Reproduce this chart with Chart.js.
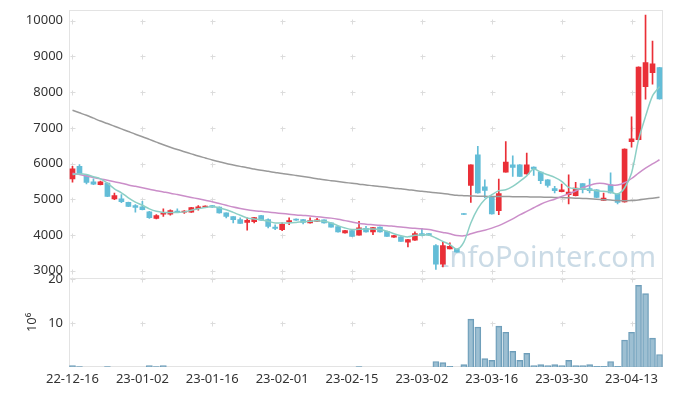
<!DOCTYPE html>
<html>
<head>
<meta charset="utf-8">
<script src="https://cdn.jsdelivr.net/npm/chart.js@4/dist/chart.umd.min.js"></script>
<style>
  body { margin: 0; background: #fff; }
  #wrap { width: 673px; height: 396px; }
</style>
</head>
<body>
<div id="wrap"><canvas id="stock-chart" width="673" height="396"></canvas></div>
<script>
// --- DATA (trading days, prices, volume in 10^6 shares) ---
const dates = [
  '22-12-16','22-12-19','22-12-20','22-12-21','22-12-22','22-12-23','22-12-26','22-12-27','22-12-28','22-12-29',
  '23-01-02','23-01-03','23-01-04','23-01-05','23-01-06','23-01-09','23-01-10','23-01-11','23-01-12','23-01-13',
  '23-01-16','23-01-17','23-01-18','23-01-19','23-01-20','23-01-25','23-01-26','23-01-27','23-01-30','23-01-31',
  '23-02-01','23-02-02','23-02-03','23-02-06','23-02-07','23-02-08','23-02-09','23-02-10','23-02-13','23-02-14',
  '23-02-15','23-02-16','23-02-17','23-02-20','23-02-21','23-02-22','23-02-23','23-02-24','23-02-27','23-02-28',
  '23-03-02','23-03-03','23-03-06','23-03-07','23-03-08','23-03-09','23-03-10','23-03-13','23-03-14','23-03-15',
  '23-03-16','23-03-17','23-03-20','23-03-21','23-03-22','23-03-23','23-03-24','23-03-27','23-03-28','23-03-29',
  '23-03-30','23-03-31','23-04-03','23-04-04','23-04-05','23-04-06','23-04-07','23-04-10','23-04-11','23-04-12',
  '23-04-13','23-04-14','23-04-17','23-04-18','23-04-19'
];

const openPrices = [
  5570,5920,5670,5490,5410,5450,5010,5010,4910,4820,
  4790,4650,4460,4580,4580,4670,4635,4635,4735,4780,
  4820,4780,4615,4510,4430,4350,4370,4540,4430,4220,
  4150,4365,4445,4430,4335,4380,4420,4335,4230,4055,
  4120,3995,4185,4085,4220,4100,3935,3945,3795,3850,
  4035,4035,3700,3180,3610,3600,4600,5385,6245,5350,
  5060,4680,5760,5965,5965,5705,5900,5760,5545,5295,
  5210,5125,5100,5435,5295,5265,4965,5405,5145,4925,
  6610,6665,8155,8545,8690
];
const closePrices = [
  5850,5710,5470,5420,5490,5080,5100,4930,4800,4770,
  4710,4480,4540,4615,4680,4645,4670,4765,4790,4810,
  4780,4615,4520,4430,4325,4410,4485,4410,4240,4185,
  4295,4400,4410,4350,4400,4425,4335,4220,4085,4120,
  3960,4200,4085,4205,4085,3960,3980,3820,3870,4035,
  3980,3990,3180,3700,3680,3520,4575,5965,5175,5245,
  4585,5155,6040,5890,5640,5965,5845,5520,5385,5240,
  5265,5200,5315,5265,5240,5050,5035,5175,4910,6405,
  6690,8700,8825,8790,7810
];
const highPrices = [
  5920,5970,5670,5570,5510,5460,5170,5130,4920,4850,
  4940,4660,4570,4730,4700,4730,4680,4775,4820,4815,
  4830,4790,4620,4515,4475,4475,4490,4545,4450,4280,
  4335,4475,4450,4435,4475,4465,4425,4340,4235,4125,
  4125,4380,4240,4210,4225,4105,3985,3950,3875,4085,
  4175,4040,3730,3795,3775,3605,4600,5965,6480,5545,
  5070,5565,6615,6215,5970,6290,5905,5765,5550,5360,
  5425,5685,5470,5440,5565,5270,5175,5740,5150,6410,
  7305,8705,10160,9430,8695
];
const lowPrices = [
  5480,5700,5430,5410,5400,5070,4990,4900,4790,4640,
  4700,4460,4450,4520,4550,4640,4605,4630,4690,4775,
  4770,4610,4475,4335,4320,4130,4335,4405,4195,4150,
  4120,4290,4405,4305,4330,4375,4330,4215,4080,4050,
  3955,3990,4080,4010,4080,3955,3930,3815,3665,3845,
  3975,3985,3030,3105,3605,3515,4575,4910,5170,5045,
  4580,4565,5755,5640,5635,5700,5665,5435,5340,5175,
  5205,4865,5095,5175,5175,5045,4960,5170,4865,4920,
  6460,6660,7805,8220,7805
];
const ma5 = [
  5690,5710,5690,5630,5570,5450,5290,5180,5040,4920,
  4830,4730,4660,4630,4625,4630,4645,4690,4730,4770,
  4795,4755,4705,4630,4550,4475,4445,4425,4380,4335,
  4335,4335,4350,4370,4380,4400,4380,4335,4260,4195,
  4150,4160,4165,4165,4150,4100,4035,3980,3945,3990,
  4000,4000,3915,3820,3730,3600,3800,4335,4735,4990,
  5125,5240,5265,5360,5500,5655,5845,5760,5685,5610,
  5500,5330,5295,5295,5265,5240,5220,5200,5145,5315,
  5735,6665,7320,7895,8155
];
const ma20 = [
  5730,5690,5650,5610,5570,5530,5490,5450,5400,5360,
  5320,5280,5240,5205,5170,5130,5090,5050,5010,4970,
  4930,4880,4830,4780,4740,4705,4680,4660,4640,4620,
  4600,4580,4560,4545,4530,4510,4490,4470,4440,4400,
  4360,4320,4300,4285,4270,4260,4240,4220,4200,4185,
  4170,4150,4110,4070,4030,3985,3975,4030,4090,4130,
  4190,4260,4350,4450,4560,4660,4760,4860,4940,5000,
  5080,5150,5230,5320,5390,5440,5440,5400,5395,5460,
  5580,5730,5870,5990,6105
];
const ma120 = [
  7490,7420,7350,7270,7190,7120,7045,6970,6895,6820,
  6750,6675,6600,6525,6455,6390,6330,6270,6210,6155,
  6100,6050,6000,5960,5920,5880,5845,5810,5780,5750,
  5720,5695,5665,5635,5605,5575,5545,5520,5495,5470,
  5445,5420,5400,5375,5355,5335,5310,5290,5265,5245,
  5220,5200,5180,5160,5135,5110,5100,5092,5085,5080,
  5078,5076,5074,5072,5070,5067,5063,5060,5055,5050,
  5045,5038,5030,5022,5012,5000,4988,4975,4963,4958,
  4962,4980,5005,5030,5052
];
const volumes = [
  0.3,0.1,0,0,0,0.1,0,0,0,0,
  0,0.3,0.1,0.3,0,0,0,0,0,0,
  0,0,0,0,0,0,0,0,0,0,
  0,0,0,0,0,0,0,0,0,0,
  0,0.1,0,0,0,0,0,0,0,0,
  0,0,1.25,1.0,0.15,0,0.55,10.9,9.1,1.9,
  1.5,9.3,7.9,3.55,1.5,3.1,0.3,0.55,0.3,0.55,
  0.3,1.5,0.3,0.3,0.55,0.15,0.15,1.25,0.15,6.15,
  7.9,18.55,16.7,6.55,2.85
];
const priceTicks = [3000, 4000, 5000, 6000, 7000, 8000, 9000, 10000];
const volumeTicks = [10, 20];

const upColor = '#ea2f37';
const downColor = '#63bdd7';
const candleColors = openPrices.map((o, i) => closePrices[i] >= o ? upColor : downColor);
const tickFont = { family: '"Noto Sans", sans-serif', size: 13 };

function fitLeftAxis(s) {
  s.width = 69;
  s.paddingTop = 0;
  s.paddingBottom = 0;
}

// frame, little "+" grid marks and the watermark
const framePlugin = {
  id: 'frame',
  beforeDatasetsDraw(chart) {
    const { ctx, chartArea, scales } = chart;
    ctx.save();

    ctx.font = '29px "Noto Sans", sans-serif';
    ctx.fillStyle = 'rgba(185, 207, 221, 0.75)';
    ctx.textAlign = 'right';
    ctx.textBaseline = 'alphabetic';
    ctx.fillText('InfoPointer.com', chartArea.right - 7, scales.y.bottom - 11);

    const xs = [];
    dates.forEach((d, i) => {
      if (i % 10 === 0) xs.push(Math.round(scales.x.getPixelForValue(i)) + 0.5);
    });
    const ys = [];
    [scales.y, scales.yv].forEach(s => {
      s.ticks.forEach(t => ys.push(Math.round(s.getPixelForValue(t.value)) + 0.5));
    });
    ctx.strokeStyle = '#dcdcdc';
    ctx.lineWidth = 1;
    ctx.beginPath();
    xs.forEach(x => ys.forEach(y => {
      ctx.moveTo(x - 2, y); ctx.lineTo(x + 3, y);
      ctx.moveTo(x, y - 2); ctx.lineTo(x, y + 3);
    }));
    ctx.stroke();

    ctx.strokeStyle = '#e3e3e3';
    ctx.strokeRect(chartArea.left + 0.5, chartArea.top + 0.5, chartArea.width - 1, chartArea.height - 1);
    const mid = Math.round(scales.y.bottom) + 0.5;
    ctx.beginPath();
    ctx.moveTo(chartArea.left, mid);
    ctx.lineTo(chartArea.right, mid);
    ctx.stroke();
    ctx.restore();
  }
};

new Chart(document.getElementById('stock-chart'), {
  type: 'bar',
  data: {
    labels: dates,
    datasets: [
      { type: 'line', label: 'MA5', data: ma5, yAxisID: 'y', borderColor: '#8ccfc5', borderWidth: 1.5, pointRadius: 0, tension: 0.3 },
      { type: 'line', label: 'MA20', data: ma20, yAxisID: 'y', borderColor: '#cb8ec9', borderWidth: 1.5, pointRadius: 0, tension: 0.3 },
      { type: 'line', label: 'MA120', data: ma120, yAxisID: 'y', borderColor: '#9a9a9a', borderWidth: 1.5, pointRadius: 0, tension: 0.3 },
      {
        label: 'body',
        data: openPrices.map((o, i) => [o, closePrices[i]]),
        yAxisID: 'y', backgroundColor: candleColors, barThickness: 5, grouped: false
      },
      {
        label: 'wick',
        data: lowPrices.map((l, i) => [l, highPrices[i]]),
        yAxisID: 'y', backgroundColor: candleColors, barThickness: 1, grouped: false
      },
      {
        label: 'volume', data: volumes, yAxisID: 'yv',
        backgroundColor: 'rgba(133, 175, 199, 0.8)', borderColor: '#6d9db9', borderWidth: 1,
        barThickness: 6, grouped: false
      }
    ]
  },
  options: {
    responsive: false,
    animation: false,
    devicePixelRatio: 1,
    layout: { padding: { top: 10, right: 10, bottom: 0, left: 0 } },
    plugins: { legend: { display: false }, tooltip: { enabled: false } },
    scales: {
      x: {
        offset: true,
        grid: { display: false, drawTicks: false },
        border: { display: false },
        ticks: {
          autoSkip: false, maxRotation: 0, padding: 4, color: '#333', font: tickFont,
          callback: (v, i) => i % 10 === 0 ? dates[i] : ''
        },
        afterFit: s => { s.height = 29; }
      },
      y: {
        position: 'left', stack: 'main', stackWeight: 3, weight: 2,
        min: 2800, max: 10300,
        grid: { display: false, drawTicks: false },
        border: { display: false },
        ticks: { padding: 6, color: '#333', font: tickFont, callback: v => String(v) },
        afterBuildTicks: s => { s.ticks = priceTicks.map(v => ({ value: v })); },
        afterFit: fitLeftAxis
      },
      yv: {
        position: 'left', stack: 'main', stackWeight: 1, weight: 1,
        min: 0, max: 20.3,
        grid: { display: false, drawTicks: false },
        border: { display: false },
        ticks: { padding: 6, color: '#333', font: tickFont, callback: v => String(v) },
        afterBuildTicks: s => { s.ticks = volumeTicks.map(v => ({ value: v })); },
        title: { display: true, text: '10⁶', color: '#333', font: tickFont, padding: { top: 24, bottom: 0 } },
        afterFit: fitLeftAxis
      }
    }
  },
  plugins: [framePlugin]
});
</script>
</body>
</html>
